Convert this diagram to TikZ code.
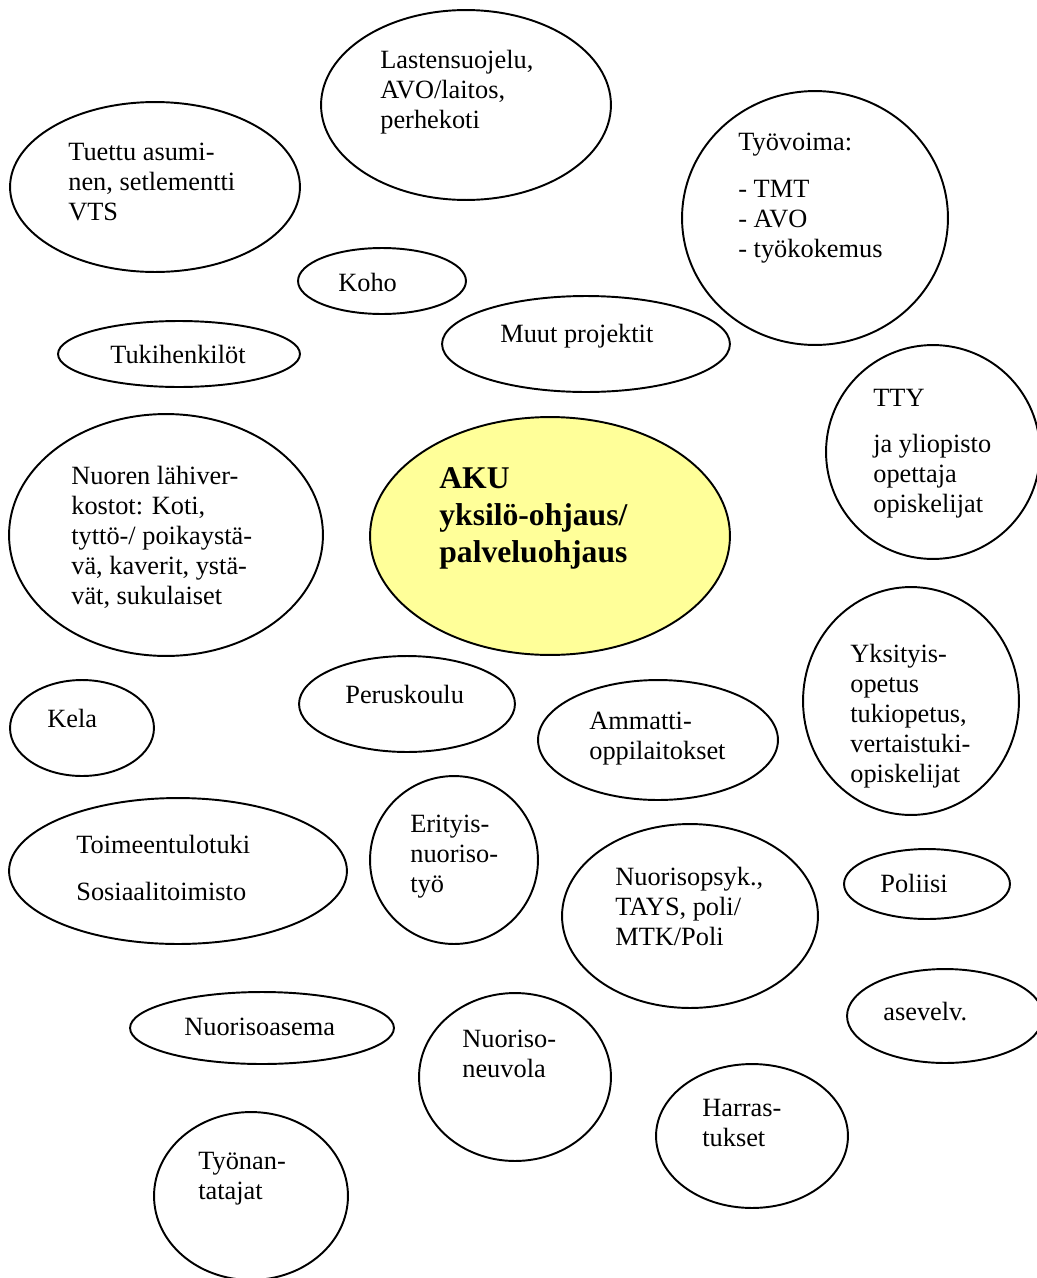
\documentclass[tikz,border=0pt]{standalone}
\usepackage{fontspec}
\setmainfont{Liberation Serif}
\usetikzlibrary{shapes.geometric}
\definecolor{akuyellow}{HTML}{FFFF99}

\begin{document}
\begin{tikzpicture}[x=0.02cm, y=-0.02cm,
  bub/.style 2 args={draw, ellipse, line width=1.1pt, inner sep=0pt,
    minimum width={0.04cm*#1}, minimum height={0.04cm*#2}},
  txt/.style={anchor=north west, align=left, inner sep=0pt,
    font=\fontsize{15}{17}\selectfont}]
  \useasboundingbox (0,0) rectangle (1037,1278);
  \clip (0,0) rectangle (1037,1278);

  \node[bub={145}{95}] (lasten) at (466,105) {};
  \node[bub={145}{85}] (tuettu) at (155,187) {};
  \node[bub={133}{127}] (tyovoima) at (815,218) {};
  \node[bub={84}{33}] (koho) at (382,281) {};
  \node[bub={121}{33}] (tuki) at (179,354) {};
  \node[bub={144}{48}] (muut) at (586,344) {};
  \node[bub={107}{107}] (tty) at (933,452) {};
  \node[bub={157}{121}] (nuoren) at (166,535) {};
  \node[bub={180}{119}, fill=akuyellow] (aku) at (550,536) {};
  \node[bub={72}{48}] (kela) at (82,728) {};
  \node[bub={108}{48}] (perus) at (407,704) {};
  \node[bub={120}{60}] (ammatti) at (658,740) {};
  \node[bub={108}{114}] (yksit) at (911,701) {};
  \node[bub={169}{73}] (toimeen) at (178,871) {};
  \node[bub={84}{84}] (erityis) at (454,860) {};
  \node[bub={128}{92}] (psyk) at (690,916) {};
  \node[bub={83}{35}] (poliisi) at (927,884) {};
  \node[bub={98}{47}] (asevelv) at (945,1016) {};
  \node[bub={132}{36}] (asema) at (262,1028) {};
  \node[bub={96}{84}] (neuvola) at (515,1077) {};
  \node[bub={96}{72}] (harras) at (752,1136) {};
  \node[bub={97}{84}] (tyonant) at (251,1196) {};

  \node[txt] (lastent) at (380,50) {Lastensuojelu,\\AVO/laitos,\\perhekoti};
  \node[txt] (tuettut) at (68,143) {Tuettu asumi-\\nen, setlementti\\VTS};
  \node[txt] (tyovoimat) at (738,133) {Työvoima:\\[0.34cm]- TMT\\- AVO\\- työkokemus};
  \node[txt] (kohot) at (338,273) {Koho};
  \node[txt] (tukit) at (110,345) {Tukihenkilöt};
  \node[txt] (muutt) at (500,324) {Muut projektit};
  \node[txt] (ttyt) at (873,389) {TTY\\[0.32cm]ja yliopisto\\opettaja\\opiskelijat};
  \node[txt] (nuorent) at (71,466) {Nuoren lähiver-\\kostot: Koti,\\tyttö-/ poikaystä-\\vä, kaverit, ystä-\\vät, sukulaiset};
  \node[txt, font=\fontsize{18}{21}\selectfont\bfseries] (akut) at (439,467)
    {AKU\\yksilö-ohjaus/\\palveluohjaus};
  \node[txt] (kelat) at (47,709) {Kela};
  \node[txt] (perust) at (345,685) {Peruskoulu};
  \node[txt] (ammattit) at (589,712) {Ammatti-\\oppilaitokset};
  \node[txt] (yksitt) at (850,644) {Yksityis-\\opetus\\tukiopetus,\\vertaistuki-\\opiskelijat};
  \node[txt] (toimeent) at (76,835) {Toimeentulotuki\\[0.34cm]Sosiaalitoimisto};
  \node[txt] (erityist) at (410,815) {Erityis-\\nuoriso-\\työ};
  \node[txt] (psykt) at (615,867) {Nuorisopsyk.,\\TAYS, poli/\\MTK/Poli};
  \node[txt] (poliisit) at (880,874) {Poliisi};
  \node[txt] (asevelvt) at (883,1002) {asevelv.};
  \node[txt] (asemat) at (184,1018) {Nuorisoasema};
  \node[txt] (neuvolat) at (462,1030) {Nuoriso-\\neuvola};
  \node[txt] (harrast) at (702,1099) {Harras-\\tukset};
  \node[txt] (tyonantt) at (198,1152) {Työnan-\\tatajat};
\end{tikzpicture}
\end{document}
